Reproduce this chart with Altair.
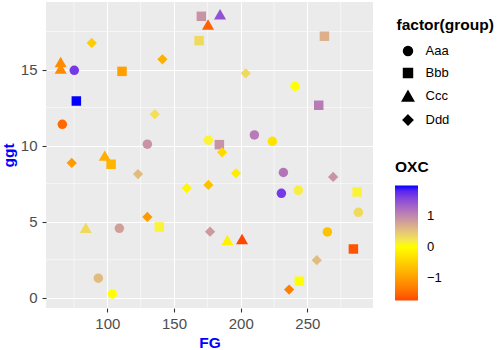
import altair as alt
import pandas as pd

group = ["Ccc", "Bbb", "Ccc", "Bbb", "Bbb", "Ddd", "Ccc", "Ccc", "Aaa", "Bbb",
         "Ddd", "Ddd", "Aaa", "Bbb", "Bbb", "Ddd", "Aaa", "Aaa", "Aaa", "Bbb",
         "Aaa", "Aaa", "Ddd", "Ccc", "Bbb", "Ddd", "Ddd", "Ddd", "Aaa", "Ddd",
         "Ddd", "Ddd", "Aaa", "Aaa", "Bbb", "Aaa", "Ddd", "Bbb", "Ccc", "Aaa",
         "Ddd", "Aaa", "Ccc", "Ccc", "Bbb", "Ddd", "Aaa", "Aaa", "Bbb", "Ddd"]
fg = [184.5, 170.5, 175.5, 262.8, 168.8, 88.3, 65.0, 65.0, 75.2, 111.0,
      141.3, 203.8, 240.8, 76.75, 258.5, 135.55, 66.25, 130.0, 175.75, 184.0,
      210.25, 223.75, 186.0, 98.05, 102.8, 73.3, 123.0, 196.5, 232.0, 269.3,
      159.55, 175.75, 230.5, 243.25, 287.3, 288.25, 130.0, 139.0, 83.8, 109.0,
      177.0, 265.0, 190.0, 201.0, 284.5, 257.05, 93.25, 103.75, 244.0, 236.3]
ggt = [18.63, 18.50, 17.96, 17.19, 16.90, 16.75, 15.50, 15.07, 14.95, 14.88,
       15.67, 14.75, 13.90, 12.93, 12.65, 12.06, 11.40, 10.09, 10.35, 10.06,
       10.70, 10.28, 9.56, 9.34, 8.77, 8.86, 8.13, 8.18, 8.23, 7.94,
       7.21, 7.41, 6.86, 7.06, 6.95, 5.61, 5.31, 4.65, 4.60, 4.56,
       4.34, 4.32, 3.79, 3.86, 3.20, 2.46, 1.28, 0.24, 1.08, 0.53]
oxc = [1.45, 0.9, -1.55, 0.65, 0.3, -0.55, -1.2, -1.2, 1.65, -1.0,
       -0.85, 0.3, 0.0, 1.97, 1.1, 0.25, -1.5, 0.9, 0.1, 0.9,
       1.1, -0.3, -0.4, -0.85, -0.8, -1.05, 0.55, -0.2, 1.15, 0.9,
       -0.1, -0.65, 1.65, 0.15, 0.1, 0.3, -1.05, 0.1, 0.3, 0.8,
       0.85, -0.65, -0.15, -1.74, -1.65, 0.55, 0.55, 0.0, 0.0, -1.3]

groups = ["Aaa", "Bbb", "Ccc", "Ddd"]
# circle, square, larger triangle, diamond (unit paths scaled by the symbol size)
shapes = ["circle", "square",
          "M0,-1.1L1.27,1.1L-1.27,1.1Z",
          "M0,-1.08L1.08,0L0,1.08L-1.08,0Z"]
x_major = [100, 150, 200, 250]
x_minor = [75, 125, 175, 225, 275]
y_major = [0, 5, 10, 15]
y_minor = [2.5, 7.5, 12.5, 17.5]
oxc_ticks = [-1, 0, 1]

df = pd.DataFrame({"FG": fg, "ggt": ggt, "group": group, "OXC": oxc})
dfx = pd.DataFrame({"FG": x_minor})
dfy = pd.DataFrame({"ggt": y_minor})

FONT = "Liberation Sans"
xscale = alt.Scale(domain=[54.0, 299.2], nice=False, zero=False)
yscale = alt.Scale(domain=[-0.68, 19.44], nice=False, zero=False)

xaxis = alt.Axis(values=x_major, title="FG", grid=True, gridColor="white", gridWidth=1.1,
                 domain=False, tickColor="#333333", tickSize=4, tickWidth=1.1,
                 labelFont=FONT, labelFontSize=15, labelColor="#4D4D4D",
                 labelBaseline="alphabetic", labelPadding=16,
                 titleFont=FONT, titleFontSize=15.5, titleFontWeight="bold", titleColor="#0000FF",
                 titleBaseline="alphabetic", titleY=39)
yaxis = alt.Axis(values=y_major, title="ggt", grid=True, gridColor="white", gridWidth=1.1,
                 domain=False, tickColor="#333333", tickSize=4, tickWidth=1.1,
                 labelFont=FONT, labelFontSize=15, labelColor="#4D4D4D", labelPadding=5,
                 titleFont=FONT, titleFontSize=15.5, titleFontWeight="bold", titleColor="#0000FF",
                 titleAngle=270, titleBaseline="alphabetic", titleAlign="center",
                 titleX=-33, titleY=153)

minor_x = alt.Chart(dfx).mark_rule(color="white", strokeWidth=0.55).encode(
    x=alt.X("FG:Q", scale=xscale, axis=xaxis))
minor_y = alt.Chart(dfy).mark_rule(color="white", strokeWidth=0.55).encode(
    y=alt.Y("ggt:Q", scale=yscale, axis=yaxis))

points = alt.Chart(df).mark_point(filled=True, opacity=1, size=90).encode(
    x=alt.X("FG:Q", scale=xscale, axis=xaxis),
    y=alt.Y("ggt:Q", scale=yscale, axis=yaxis),
    shape=alt.Shape("group:N", scale=alt.Scale(domain=groups, range=shapes),
                    legend=alt.Legend(title="factor(group)", orient="none", legendX=350.5, legendY=16,
                                      titleFont=FONT, titleFontSize=15.5, titleFontWeight="bold",
                                      titleColor="black", titlePadding=11,
                                      labelFont=FONT, labelFontSize=13, labelColor="black",
                                      symbolFillColor="black", symbolStrokeColor="black",
                                      symbolSize=80, symbolOffset=5, labelOffset=11,
                                      rowPadding=7, padding=0)),
    color=alt.Color("OXC:Q",
                    scale=alt.Scale(domain=[-1.74, 0, 1.97], range=["#FF4700", "#FFFF00", "#0000FF"],
                                    interpolate="lab"),
                    legend=alt.Legend(title="OXC", orient="none", legendX=349, legendY=158,
                                      direction="vertical", values=oxc_ticks,
                                      gradientLength=115, gradientThickness=23, gradientStrokeWidth=0,
                                      titleFont=FONT, titleFontSize=15.5, titleFontWeight="bold",
                                      titleColor="black", titlePadding=10,
                                      labelFont=FONT, labelFontSize=13, labelColor="black",
                                      labelOffset=9, padding=0)),
)

chart = alt.layer(minor_x, minor_y, points).properties(
    width=327, height=306,
    autosize=alt.AutoSizeParams(type="none"),
    padding={"left": 46, "top": 2, "right": 131, "bottom": 42},
    background="white",
).configure_view(fill="#EBEBEB", strokeWidth=0)

chart.save("out.html", embed_options={"renderer": "svg", "actions": False})
